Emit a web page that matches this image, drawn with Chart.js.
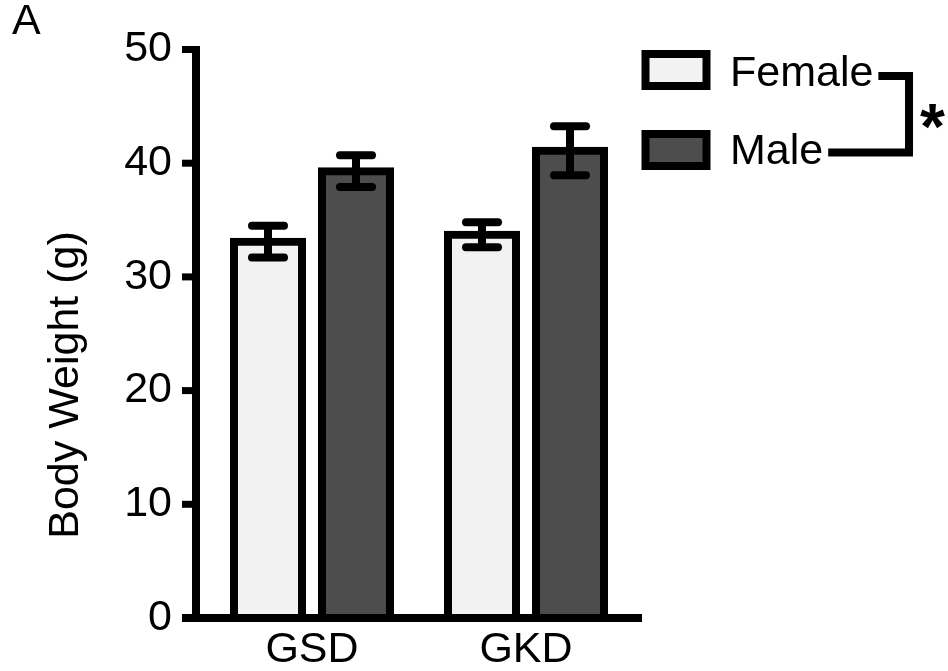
<!DOCTYPE html>
<html>
<head>
<meta charset="utf-8">
<script src="https://cdn.jsdelivr.net/npm/chart.js@4.4.1/dist/chart.umd.min.js"></script>
<style>
  html, body { margin: 0; padding: 0; background: #fff; }
  #wrap { width: 948px; height: 671px; }
</style>
</head>
<body>
<div id="wrap"><canvas id="c" width="948" height="671"></canvas></div>
<script>
// ---- data ----
const categories = ['GSD', 'GKD'];
const seriesNames = ['Female', 'Male'];
const femaleMeans = [33.1, 33.7];
const femaleErr = [1.4, 1.1];
const maleMeans = [39.3, 41.1];
const maleErr = [1.4, 2.15];
const yTicks = [0, 10, 20, 30, 40, 50];
const yTitle = 'Body Weight (g)';
const panelLabel = 'A';
const sigMark = '*';

const FONT = "'Liberation Sans', Arial, sans-serif";
const fillColors = ['#f2f2f2', '#4d4d4d'];

const errorBars = {
  id: 'errorBars',
  afterDatasetsDraw(chart) {
    const ctx = chart.ctx;
    const y = chart.scales.y;
    ctx.save();
    ctx.strokeStyle = '#000';
    ctx.lineWidth = 8;
    chart.data.datasets.forEach((ds, di) => {
      const meta = chart.getDatasetMeta(di);
      meta.data.forEach((el, i) => {
        const v = ds.data[i], e = ds.err[i];
        const yt = y.getPixelForValue(v + e);
        const yb = y.getPixelForValue(v - e);
        ctx.lineCap = 'butt';
        ctx.beginPath(); ctx.moveTo(el.x, yt); ctx.lineTo(el.x, yb); ctx.stroke();
        ctx.lineCap = 'round';
        ctx.beginPath(); ctx.moveTo(el.x - 16, yt); ctx.lineTo(el.x + 16, yt); ctx.stroke();
        ctx.beginPath(); ctx.moveTo(el.x - 16, yb); ctx.lineTo(el.x + 16, yb); ctx.stroke();
      });
    });
    ctx.restore();
  }
};

const axesAndDecor = {
  id: 'axesAndDecor',
  afterDraw(chart) {
    const ctx = chart.ctx;
    const y = chart.scales.y;
    const area = chart.chartArea;
    const axX = area.left - 9;      // y-axis line centre
    const y0 = y.getPixelForValue(0);
    const yTop = y.getPixelForValue(yTicks[yTicks.length - 1]);
    ctx.save();
    ctx.fillStyle = '#000';
    // y axis
    ctx.fillRect(axX - 4, yTop - 3.5, 8, (y0 + 4) - (yTop - 3.5));
    // y ticks
    yTicks.forEach(t => {
      const p = y.getPixelForValue(t);
      ctx.fillRect(axX - 14, p - 3.5, 14, 7);
    });
    // x axis
    ctx.fillRect(axX - 14, y0 - 4, (area.right + 9) - (axX - 14), 8);

    // y title
    ctx.save();
    ctx.font = '43px ' + FONT;
    ctx.textAlign = 'center';
    ctx.textBaseline = 'alphabetic';
    ctx.translate(78, 385);
    ctx.rotate(-Math.PI / 2);
    ctx.fillText(yTitle, 0, 0);
    ctx.restore();

    // panel label
    ctx.font = '43px ' + FONT;
    ctx.textAlign = 'left';
    ctx.textBaseline = 'alphabetic';
    ctx.fillText(panelLabel, 12, 34);

    // legend
    const boxX = 645.5, boxW = 61, boxH = 32;
    const rows = [70, 150];
    const baselines = [86, 164];
    const textX = 730;
    ctx.font = '43px ' + FONT;
    const ends = [];
    chart.data.datasets.forEach((ds, i) => {
      const cy = rows[i];
      ctx.fillStyle = ds.backgroundColor;
      ctx.fillRect(boxX, cy - boxH / 2, boxW, boxH);
      ctx.strokeStyle = '#000';
      ctx.lineWidth = 8;
      ctx.strokeRect(boxX, cy - boxH / 2, boxW, boxH);
      ctx.fillStyle = '#000';
      ctx.fillText(ds.label, textX, baselines[i]);
      ends.push(textX + ctx.measureText(ds.label).width);
    });
    // significance bracket
    const bx = 909;
    ctx.strokeStyle = '#000';
    ctx.lineWidth = 8;
    ctx.lineJoin = 'miter';
    ctx.lineCap = 'butt';
    ctx.beginPath();
    ctx.moveTo(ends[0] + 5, 76);
    ctx.lineTo(bx, 76);
    ctx.lineTo(bx, 152.5);
    ctx.lineTo(ends[1] + 5, 152.5);
    ctx.stroke();
    // asterisk
    ctx.font = 'bold 64px ' + FONT;
    const m = ctx.measureText(sigMark);
    const inkW = m.actualBoundingBoxLeft + m.actualBoundingBoxRight;
    const inkH = m.actualBoundingBoxAscent + m.actualBoundingBoxDescent;
    ctx.textAlign = 'left';
    ctx.fillText(sigMark, 932.5 - inkW / 2 + m.actualBoundingBoxLeft, 116.5 + inkH / 2 - m.actualBoundingBoxDescent);
    ctx.restore();
  }
};

new Chart(document.getElementById('c'), {
  type: 'bar',
  data: {
    labels: categories,
    datasets: [
      { label: seriesNames[0], data: femaleMeans, err: femaleErr, backgroundColor: fillColors[0] },
      { label: seriesNames[1], data: maleMeans, err: maleErr, backgroundColor: fillColors[1] }
    ]
  },
  options: {
    responsive: false,
    animation: false,
    devicePixelRatio: 1,
    layout: { padding: { top: 49.5, right: 315, bottom: 0, left: 0 } },
    datasets: {
      bar: {
        borderColor: '#000',
        borderWidth: 8,
        inflateAmount: 4,
        categoryPercentage: 0.8224,
        barPercentage: 0.7727
      }
    },
    plugins: { legend: { display: false }, tooltip: { enabled: false } },
    scales: {
      x: {
        grid: { display: false, drawTicks: false },
        border: { display: false },
        ticks: { color: '#000', font: { family: FONT, size: 43 }, padding: 6 },
        afterFit(s) { s.height = 53; s.paddingLeft = 0; s.paddingRight = 0; }
      },
      y: {
        min: 0, max: 50,
        grid: { display: false, drawTicks: false },
        border: { display: false },
        ticks: { stepSize: 10, color: '#000', font: { family: FONT, size: 43 }, padding: 33 },
        afterFit(s) { s.width = 205; s.paddingTop = 0; s.paddingBottom = 0; }
      }
    }
  },
  plugins: [errorBars, axesAndDecor]
});
</script>
</body>
</html>
